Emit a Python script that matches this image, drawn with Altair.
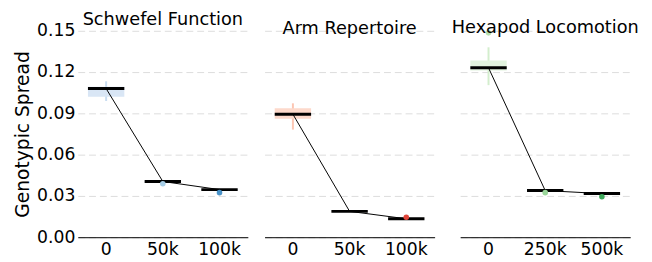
import altair as alt
import pandas as pd

# ---- data ----
titles = ["Schwefel Function", "Arm Repertoire", "Hexapod Locomotion"]
cats = [["0", "50k", "100k"], ["0", "50k", "100k"], ["0", "250k", "500k"]]
medians = [[0.1080, 0.0405, 0.0346], [0.0894, 0.0188, 0.0134], [0.1231, 0.0339, 0.0317]]
q1s = [[0.1021, 0.0402, 0.0343], [0.0861, 0.0186, 0.0132], [0.1212, 0.0337, 0.0315]]
q3s = [[0.1093, 0.0408, 0.0349], [0.0937, 0.0190, 0.0136], [0.1284, 0.0341, 0.0319]]
whisk_lo = [[0.0990, 0.0402, 0.0343], [0.0782, 0.0186, 0.0132], [0.1105, 0.0335, 0.0313]]
whisk_hi = [[0.1133, 0.0408, 0.0349], [0.0973, 0.0190, 0.0136], [0.1380, 0.0341, 0.0319]]
out_cats = [["50k", "100k"], ["100k"], ["0", "250k", "500k"]]
out_vals = [[0.0389, 0.0324], [0.0145], [0.1485, 0.0324, 0.0294]]
out_cols = [["#a6cde6", "#4a93c9"], ["#e0453a"], ["#b8e0b0", "#9ad69a", "#3da85a"]]
box_cols = ["#d9e6f5", "#fdd9cb", "#e2f3de"]
whisk_cols = ["#c8dcf0", "#fcc6b3", "#d3eecd"]
y_ticks = [0.0, 0.03, 0.06, 0.09, 0.12, 0.15]

FONT = "DejaVu Sans"
W, H = 173, 210


def panel(i):
    df = pd.DataFrame({"cat": cats[i], "med": medians[i], "q1": q1s[i], "q3": q3s[i],
                       "lo": whisk_lo[i], "hi": whisk_hi[i]})
    odf = pd.DataFrame({"cat": out_cats[i], "val": out_vals[i], "col": out_cols[i]})
    xenc = alt.X("cat:N", sort=cats[i], title=None,
                 scale=alt.Scale(paddingInner=0, paddingOuter=0),
                 axis=alt.Axis(labelAngle=0, domainColor="black", domainWidth=1, ticks=False,
                               labelFontSize=17.5, labelFont=FONT, labelColor="black",
                               labelPadding=4, grid=False))
    yscale = alt.Scale(domain=[0, 0.15], nice=False)
    if i == 0:
        yaxis = alt.Axis(values=y_ticks, format=".2f", title="Genotypic Spread",
                         titleFontSize=19, titleFont=FONT, titleFontWeight="normal",
                         titleColor="black", titlePadding=4,
                         labelFontSize=17.5, labelFont=FONT, labelColor="black", labelPadding=3,
                         domain=False, ticks=False, grid=True, gridDash=[7, 4],
                         gridColor="#dcdcdc", gridWidth=1)
    else:
        yaxis = alt.Axis(values=y_ticks, title=None, labels=False, domain=False, ticks=False,
                         grid=True, gridDash=[7, 4], gridColor="#dcdcdc", gridWidth=1)
    base = alt.Chart(df)
    whisk = base.mark_rule(color=whisk_cols[i], strokeWidth=2).encode(
        x=xenc, y=alt.Y("lo:Q", scale=yscale, axis=yaxis), y2="hi:Q")
    box = base.mark_bar(width=37, color=box_cols[i], opacity=1).encode(
        x=xenc, y=alt.Y("q1:Q"), y2="q3:Q")
    line = base.mark_line(color="black", strokeWidth=1).encode(x=xenc, y=alt.Y("med:Q"))
    med = base.mark_tick(color="black", thickness=3, size=37, opacity=1).encode(
        x=xenc, y=alt.Y("med:Q"))
    pts = alt.Chart(odf).mark_circle(size=32, opacity=1).encode(
        x=alt.X("cat:N", sort=cats[i]), y=alt.Y("val:Q"),
        color=alt.Color("col:N", scale=None))
    return alt.layer(whisk, box, line, med, pts).properties(
        width=W, height=H,
        title=alt.TitleParams(titles[i], fontSize=18, font=FONT, fontWeight="normal",
                              color="black", anchor="middle", offset=-7))


chart = alt.hconcat(panel(0), panel(1), panel(2), spacing=17).properties(
    padding={"left": 6, "top": 1, "right": 5, "bottom": 0}
).configure_view(stroke=None)

chart.save("out.html", embed_options={"renderer": "svg", "actions": False})
